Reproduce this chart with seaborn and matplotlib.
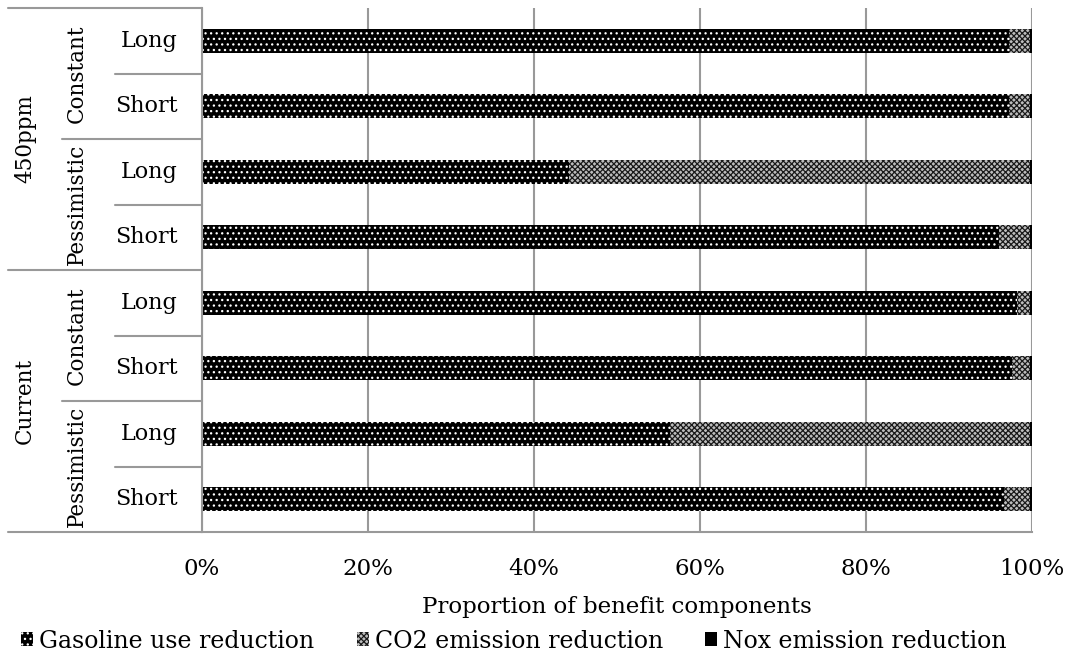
import matplotlib
matplotlib.use("Agg")
import matplotlib.pyplot as plt
import matplotlib.transforms as mtrans
from matplotlib.patches import Patch
import pandas as pd
import seaborn as sns

# rows from top to bottom
scenario = ["450ppm"] * 4 + ["Current"] * 4
outlook = ["Constant", "Constant", "Pessimistic", "Pessimistic"] * 2
horizon = ["Long", "Short"] * 4
gasoline = [97.2, 97.2, 44.2, 96.0, 98.2, 97.6, 56.4, 96.6]
co2 = [2.5, 2.5, 55.5, 3.7, 1.6, 2.1, 43.3, 3.1]
nox = [0.3, 0.3, 0.3, 0.3, 0.2, 0.3, 0.3, 0.3]
components = ["Gasoline use reduction", "CO2 emission reduction", "Nox emission reduction"]
ticks = [0, 20, 40, 60, 80, 100]

df = pd.DataFrame({"scenario": scenario, "outlook": outlook, "horizon": horizon,
                   "gasoline": gasoline, "co2": co2, "nox": nox})
df["row"] = df["scenario"] + "|" + df["outlook"] + "|" + df["horizon"]
df["cum1"] = df["gasoline"]
df["cum2"] = df["cum1"] + df["co2"]
df["cum3"] = df["cum2"] + df["nox"]

sns.set_theme(style="white")
plt.rcParams["font.family"] = ["DejaVu Serif"]
plt.rcParams["text.color"] = "black"
plt.rcParams["xtick.color"] = "black"
plt.rcParams["axes.labelcolor"] = "black"
plt.rcParams["hatch.linewidth"] = 0.9

fig = plt.figure(figsize=(10.74, 6.56), dpi=100)
ax = fig.add_axes([202 / 1074, 124 / 656, 830 / 1074, 524 / 656])

# gasoline: black with white speckles, CO2: fine grey check, NOx: solid black
gas_style = dict(facecolor="black", edgecolor="white", hatch="...")
co2_style = dict(facecolor="#bdbdbd", edgecolor="#1a1a1a", hatch="xxxxxx")
nox_style = dict(facecolor="black", edgecolor="black", hatch=None)

order = list(df["row"])
for col, st in [("cum3", nox_style), ("cum2", co2_style), ("cum1", gas_style)]:
    before = len(ax.patches)
    sns.barplot(data=df, x=col, y="row", order=order, orient="h", ax=ax,
                width=0.37, color="black", errorbar=None)
    for p in ax.patches[before:]:
        p.set_facecolor(st["facecolor"])
        p.set_edgecolor(st["edgecolor"])
        p.set_hatch(st["hatch"])
        p.set_linewidth(0)

ax.set_xlim(0, 100)
ax.set_ylim(7.5, -0.5)
ax.set_xticks(ticks)
ax.set_xticklabels([f"{t}%" for t in ticks], fontsize=16.5)
ax.set_yticks([])
ax.set_ylabel("")
ax.set_xlabel("Proportion of benefit components", fontsize=16.5, labelpad=11)
ax.tick_params(axis="x", direction="out", length=7, width=1.5, color="#999999", pad=12)
ax.xaxis.grid(True, color="#999999", linewidth=1.5)
ax.set_axisbelow(True)
for s in ["top", "right"]:
    ax.spines[s].set_visible(False)
for s in ["left", "bottom"]:
    ax.spines[s].set_color("#999999")
    ax.spines[s].set_linewidth(1.5)

# hierarchical category labels on the left
tr = mtrans.blended_transform_factory(fig.transFigure, ax.transData)
gray = "#999999"
for i, h in enumerate(horizon):
    ax.text(178 / 1074, i, h, transform=tr, ha="right", va="center", fontsize=16)
for j in range(4):
    ax.text(77 / 1074, 2 * j + 0.5, outlook[2 * j], transform=tr, ha="center",
            va="center", rotation=90, fontsize=15.5)
for k in range(2):
    ax.text(25 / 1074, 4 * k + 1.5, scenario[4 * k], transform=tr, ha="center",
            va="center", rotation=90, fontsize=15.5)
for b in range(9):
    y = b - 0.5
    if b % 4 == 0:
        x0 = 8
    elif b % 2 == 0:
        x0 = 62
    else:
        x0 = 115
    ax.plot([x0 / 1074, 202 / 1074], [y, y], transform=tr, color=gray,
            linewidth=1.5, clip_on=False)

handles = [Patch(linewidth=0, **gas_style), Patch(linewidth=0, **co2_style),
           Patch(linewidth=0, **nox_style)]
fig.legend(handles, components, loc="center", bbox_to_anchor=(514 / 1074, 15 / 656), ncol=3,
           frameon=False, fontsize=17, handlelength=0.5, handleheight=0.5,
           handletextpad=0.25, columnspacing=1.8)

fig.savefig("out.png", dpi=100)
